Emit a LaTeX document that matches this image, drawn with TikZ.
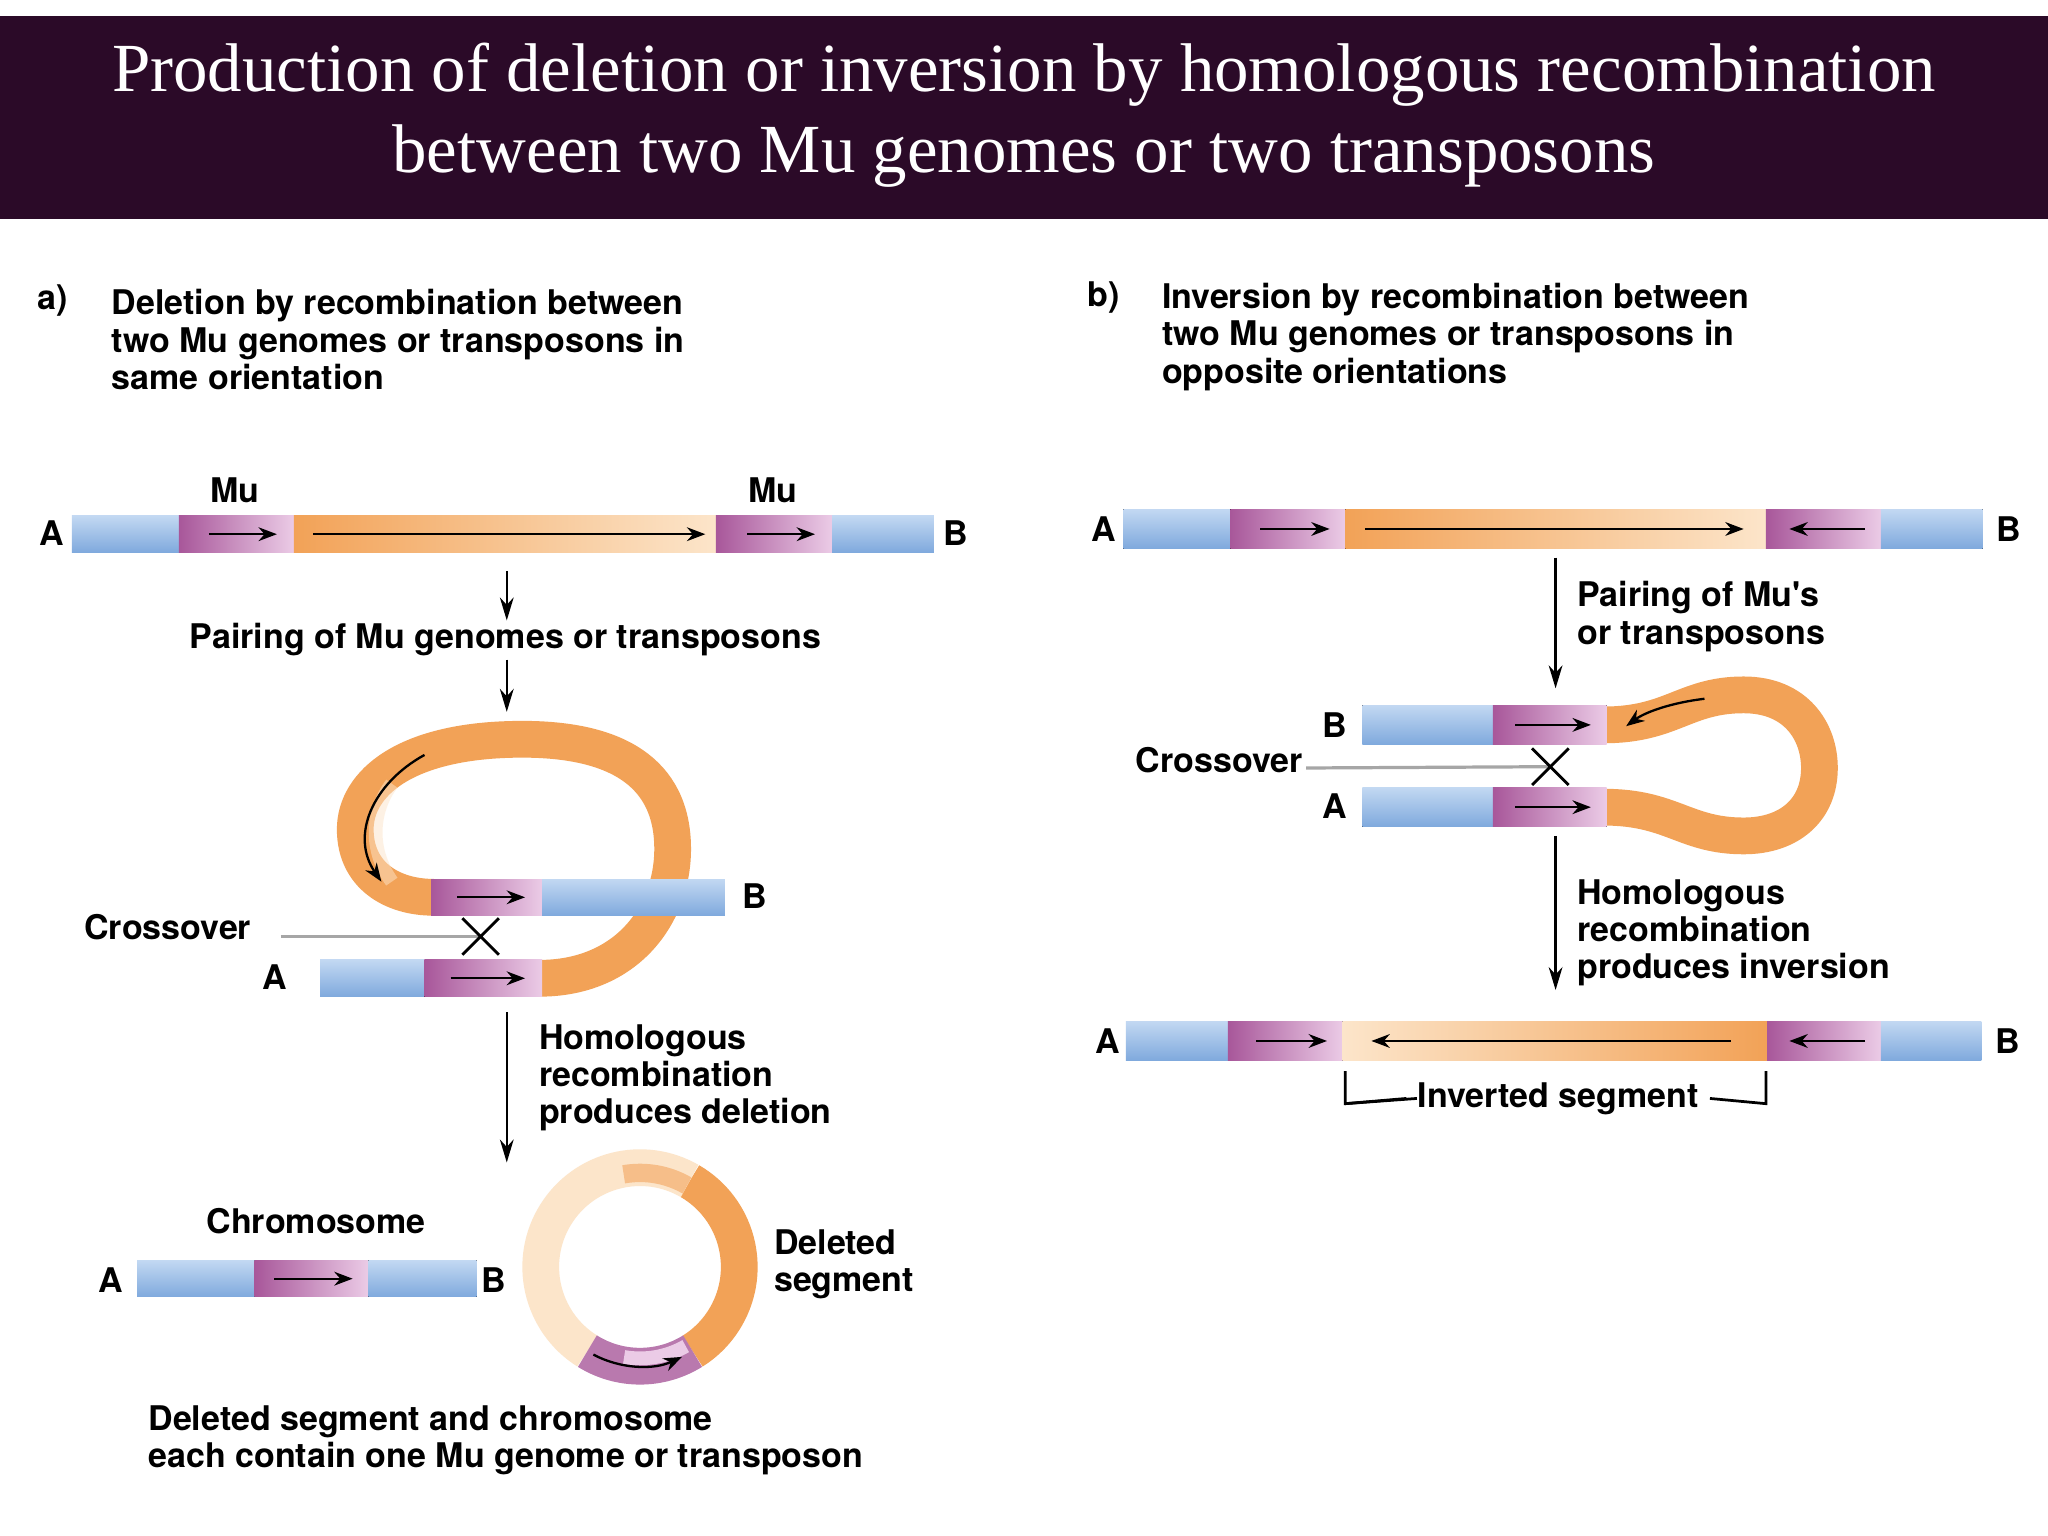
\documentclass[tikz,border=0pt]{standalone}
\usepackage{fontspec}
\setmainfont{Liberation Serif}
\newfontfamily\lab{TeX Gyre Heros}
\usetikzlibrary{arrows.meta}
\definecolor{band}{HTML}{2B0A28}
\definecolor{bluea}{HTML}{C2D8F2}
\definecolor{blueb}{HTML}{7FA9DD}
\definecolor{pinka}{HTML}{A8579A}
\definecolor{pinkb}{HTML}{EBCBE6}
\definecolor{orga}{HTML}{F2A257}
\definecolor{orgb}{HTML}{FCE5CA}
\tikzset{
  blueseg/.style={top color=bluea, bottom color=blueb, draw=none},
  pinkseg/.style={left color=pinka, right color=pinkb, draw=none},
  orgseg/.style={left color=orga, right color=orgb, draw=none},
  orgsegr/.style={left color=orgb, right color=orga, draw=none},
  lbl/.style={font=\lab\bfseries\fontsize{7.4}{8.6}\selectfont, inner sep=0pt},
  lblL/.style={lbl, anchor=west, align=left},
  sarr/.style={-{Stealth[length=5pt,width=3pt]}, line width=0.5pt},
  darr/.style={-{Stealth[length=4pt,width=3pt]}, line width=0.5pt},
  loop/.style={line width=8pt, draw=orga},
  xline/.style={draw=gray!70, line width=0.7pt},
}
\newcommand\seg[5]{\fill[#5] (#1,#3) rectangle (#2,#4);}
\begin{document}
\begin{tikzpicture}[x=0.01cm,y=-0.01cm]
\useasboundingbox (0,0) rectangle (1568,1176);
\fill[white] (0,0) rectangle (1568,1176);
\fill[band] (0,12) rectangle (1568,168);
\node[text=white, font=\fontsize{15}{17.6}\selectfont, align=center] (title) at (784,88)
  {Production of deletion or inversion by homologous recombination\\between two Mu genomes or two transposons};

% ---------- panel a ----------
\node[lblL] (ha) at (28,230) {a)};
\node[lblL] (ta) at (85,260) {Deletion by recombination between\\[-0.5pt]two Mu genomes or transposons in\\[-0.5pt]same orientation};

\seg{55}{137}{395}{423}{blueseg}
\seg{137}{225}{395}{423}{pinkseg}
\seg{225}{548}{395}{423}{orgseg}
\seg{548}{637}{395}{423}{pinkseg}
\seg{637}{715}{395}{423}{blueseg}
\draw[darr] (160,409) -- (212,409);
\draw[darr] (240,409) -- (540,409);
\draw[darr] (572,409) -- (624,409);
\node[lbl] (a1) at (40,408) {A};
\node[lbl] (b1) at (732,408) {B};
\node[lbl] (mu1) at (180,375) {Mu};
\node[lbl] (mu2) at (592,375) {Mu};

\coordinate (p1) at (388,437);
\coordinate (p2) at (388,475);
\draw[sarr] (p1) -- (p2);
\node[lbl] (pair) at (387,490) {Pairing of Mu genomes or transposons};
\coordinate (p3) at (388,505);
\coordinate (p4) at (388,545);
\draw[sarr] (p3) -- (p4);

% loop
\draw[loop] (413,749) .. controls (480,749) and (515,700) .. (515,650)
  .. controls (515,590) and (470,566) .. (400,566)
  .. controls (310,566) and (272,600) .. (272,635)
  .. controls (272,670) and (300,687) .. (332,687);
\draw[line width=3pt, draw=orgb, opacity=0.5] (300,600) .. controls (285,620) and (282,650) .. (300,675);
\seg{330}{415}{673}{701}{pinkseg}
\seg{415}{555}{673}{701}{blueseg}
\seg{245}{325}{735}{763}{blueseg}
\seg{325}{415}{735}{763}{pinkseg}
\draw[darr] (350,687) -- (402,687);
\draw[darr] (345,749) -- (402,749);
\draw[darr] (325,578) .. controls (285,600) and (268,640) .. (292,675);
\node[lbl] (bl) at (578,686) {B};
\node[lbl] (al) at (210,748) {A};
\node[lbl, anchor=east] (cx1) at (193,710) {Crossover};
\coordinate (c1) at (215,717);
\coordinate (x1) at (368,717);
\draw[xline] (c1) -- (x1);
\draw[line width=0.6pt] (354,703) -- (382,731) (354,731) -- (382,703);

\coordinate (p5) at (388,775);
\coordinate (p6) at (388,890);
\draw[sarr] (p5) -- (p6);
\node[lblL] (hom) at (412,825) {Homologous\\[-0.5pt]recombination\\[-0.5pt]produces deletion};

\node[lbl] (chr) at (242,935) {Chromosome};
\seg{105}{195}{965}{993}{blueseg}
\seg{195}{282}{965}{993}{pinkseg}
\seg{282}{365}{965}{993}{blueseg}
\draw[darr] (210,979) -- (270,979);
\node[lbl] (a3) at (85,980) {A};
\node[lbl] (b3) at (378,980) {B};

% ring
\draw[loop, draw=orga] (490,970) ++(-60:76) arc[start angle=-60, end angle=58, radius=76];
\draw[loop, draw=orgb] (490,970) ++(122:76) arc[start angle=122, end angle=300, radius=76];
\draw[line width=4pt, draw=orga!70] (490,970) ++(-100:72) arc[start angle=-100, end angle=-60, radius=72];
\draw[loop, draw=pinka!80] (490,970) ++(58:76) arc[start angle=58, end angle=122, radius=76];
\draw[line width=3pt, draw=pinkb] (490,970) ++(60:70) arc[start angle=60, end angle=100, radius=70];
\draw[darr] (490,970) ++(118:76) arc[start angle=118, end angle=65, radius=76];
\node[lblL] (del) at (592,968) {Deleted\\[-0.5pt]segment};
\node[lblL] (fin) at (113,1103) {Deleted segment and chromosome\\[-0.5pt]each contain one Mu genome or transposon};

% ---------- panel b ----------
\node[lblL] (hb) at (832,228) {b)};
\node[lblL] (tb) at (889,258) {Inversion by recombination between\\[-0.5pt]two Mu genomes or transposons in\\[-0.5pt]opposite orientations};

\seg{860}{942}{390}{420}{blueseg}
\seg{942}{1030}{390}{420}{pinkseg}
\seg{1030}{1352}{390}{420}{orgseg}
\seg{1352}{1440}{390}{420}{pinkseg}
\seg{1440}{1518}{390}{420}{blueseg}
\draw[darr] (965,405) -- (1018,405);
\draw[darr] (1045,405) -- (1335,405);
\draw[darr] (1428,405) -- (1370,405);
\node[lbl] (a4) at (845,405) {A};
\node[lbl] (b4) at (1538,405) {B};

\coordinate (q1) at (1191,427);
\coordinate (q2) at (1191,527);
\draw[sarr] (q1) -- (q2);
\node[lblL] (pb) at (1207,472) {Pairing of Mu's\\[-0.5pt]or transposons};

\draw[loop] (1228,555) .. controls (1280,555) and (1290,532) .. (1335,532)
  .. controls (1375,532) and (1393,560) .. (1393,588)
  .. controls (1393,620) and (1370,640) .. (1335,640)
  .. controls (1290,640) and (1280,618) .. (1228,618);
\seg{1043}{1143}{540}{570}{blueseg}
\seg{1143}{1230}{540}{570}{pinkseg}
\seg{1043}{1143}{603}{633}{blueseg}
\seg{1143}{1230}{603}{633}{pinkseg}
\draw[darr] (1160,555) -- (1218,555);
\draw[darr] (1160,618) -- (1218,618);
\draw[darr] (1305,535) .. controls (1280,538) and (1260,545) .. (1245,556);
\node[lbl] (b5) at (1022,555) {B};
\node[lbl] (a5) at (1022,617) {A};
\node[lbl, anchor=east] (cx2) at (998,582) {Crossover};
\coordinate (c2) at (1000,588);
\coordinate (x2) at (1187,587);
\draw[xline] (c2) -- (x2);
\draw[line width=0.6pt] (1173,573) -- (1201,601) (1173,601) -- (1201,573);

\coordinate (q3) at (1191,640);
\coordinate (q4) at (1191,758);
\draw[sarr] (q3) -- (q4);
\node[lblL] (hb2) at (1207,714) {Homologous\\[-0.5pt]recombination\\[-0.5pt]produces inversion};

\seg{862}{940}{782}{812}{blueseg}
\seg{940}{1028}{782}{812}{pinkseg}
\seg{1028}{1353}{782}{812}{orgsegr}
\seg{1353}{1440}{782}{812}{pinkseg}
\seg{1440}{1517}{782}{812}{blueseg}
\draw[darr] (962,797) -- (1016,797);
\draw[darr] (1325,797) -- (1050,797);
\draw[darr] (1428,797) -- (1370,797);
\node[lbl] (a6) at (848,797) {A};
\node[lbl] (b6) at (1537,797) {B};
\node[lbl] (inv) at (1193,841) {Inverted segment};
\draw[line width=0.6pt] (1030,820) -- (1030,845) -- (inv.west) ++(-8,0) coordinate (iw);
\draw[line width=0.6pt] (1030,845) -- ([xshift=-0.08cm]inv.west);
\draw[line width=0.6pt] (1352,820) -- (1352,845) -- ([xshift=0.08cm]inv.east);
\end{tikzpicture}
\end{document}
